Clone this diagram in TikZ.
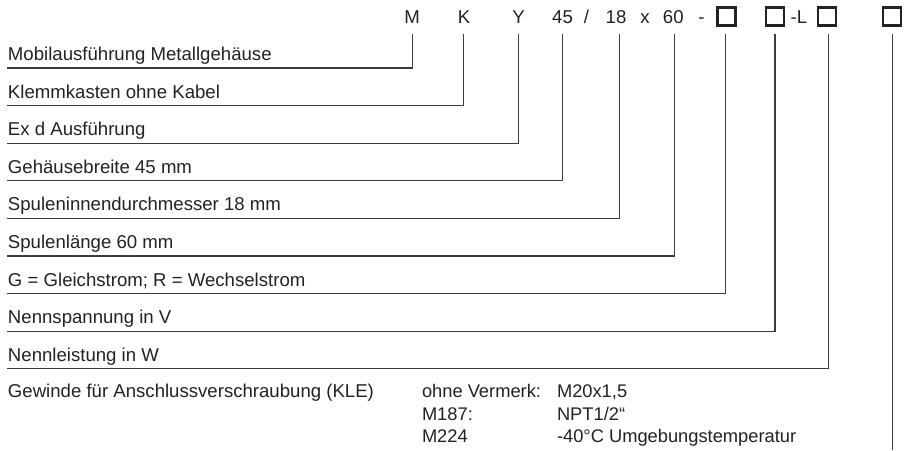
\documentclass[tikz,border=0pt]{standalone}
\usepackage{fontspec}
\setmainfont{Liberation Sans}
\definecolor{ink}{HTML}{222222}
\definecolor{wirec}{HTML}{3C3C3C}
\begin{document}
\begin{tikzpicture}[x=1pt,y=-1pt,
  font=\fontsize{18.6}{22}\selectfont,
  every node/.style={text=ink, inner sep=0pt, outer sep=0pt},
  code/.style={anchor=base},
  lbl/.style={anchor=base west},
  small/.style={anchor=base west, font=\fontsize{18.3}{22}\selectfont},
  wire/.style={draw=wirec, line width=1.3pt},
  codebox/.style={draw=ink, line width=2.2pt, minimum size=18pt}]
\useasboundingbox (0,0) rectangle (905,450);
% header code
\node[code] (cM) at (412,23.5) {M};
\node[code] (cK) at (464,23.5) {K};
\node[code] (cY) at (518.5,23.5) {Y};
\node[code] (c45) at (562.5,23.5) {45};
\node[code] (cs) at (586.5,23.5) {/};
\node[code] (c18) at (616,23.5) {18};
\node[code] (cx) at (645,23.5) {x};
\node[code] (c60) at (673.3,23.5) {60};
\node[code] (cd) at (701.5,23.5) {-};
\node[codebox] (b1) at (726.5,16.5) {};
\node[codebox] (b2) at (775,16.5) {};
\node[code] (cL) at (799,23.5) {-L};
\node[codebox] (b3) at (827,16.5) {};
\node[codebox] (b4) at (892,16.5) {};
% labels
\node[lbl] (l1) at (8,60.5) {Mobilausführung Metallgehäuse};
\node[lbl] (l2) at (8,98.1) {Klemmkasten ohne Kabel};
\node[lbl] (l3) at (8,135.7) {Ex d Ausführung};
\node[lbl] (l4) at (8,173.3) {Gehäusebreite 45 mm};
\node[lbl] (l5) at (8,210.9) {Spuleninnendurchmesser 18 mm};
\node[lbl] (l6) at (8,248.5) {Spulenlänge 60 mm};
\node[lbl] (l7) at (8,286.1) {G = Gleichstrom; R = Wechselstrom};
\node[lbl] (l8) at (8,323.7) {Nennspannung in V};
\node[lbl] (l9) at (8,361.3) {Nennleistung in W};
\node[lbl] (l10) at (8,397.5) {Gewinde für Anschlussverschraubung (KLE)};
\node[small] (o1) at (422,397.5) {ohne Vermerk:};
\node[small] (v1) at (557,397.5) {M20x1,5};
\node[small] (o2) at (422,420.2) {M187:};
\node[small] (v2) at (557,420.2) {NPT1/2“};
\node[small] (o3) at (422,442.9) {M224};
\node[small] (v3) at (557,442.9) {-40°C Umgebungstemperatur};
% connector ends
\coordinate (t1) at (412.3,33.5);  \coordinate (e1) at (7,68);
\coordinate (t2) at (463.5,33.5);  \coordinate (e2) at (7,105.6);
\coordinate (t3) at (518.5,33.5);  \coordinate (e3) at (7,143.2);
\coordinate (t4) at (562.3,33.5);  \coordinate (e4) at (7,180.8);
\coordinate (t5) at (619.3,33.5);  \coordinate (e5) at (7,218.4);
\coordinate (t6) at (674.3,33.5);  \coordinate (e6) at (7,256);
\coordinate (t7) at (725.8,33.5);  \coordinate (e7) at (7,293.6);
\coordinate (t8) at (775,33.5);    \coordinate (e8) at (7,331.2);
\coordinate (t9) at (828.5,33.5);  \coordinate (e9) at (7,368.8);
\coordinate (t10) at (892.5,33.5); \coordinate (e10) at (892.5,450);
\foreach \i in {1,...,9} {\draw[wire] (t\i) |- (e\i);}
\draw[wire] (t10) -- (e10);
\end{tikzpicture}
\end{document}
